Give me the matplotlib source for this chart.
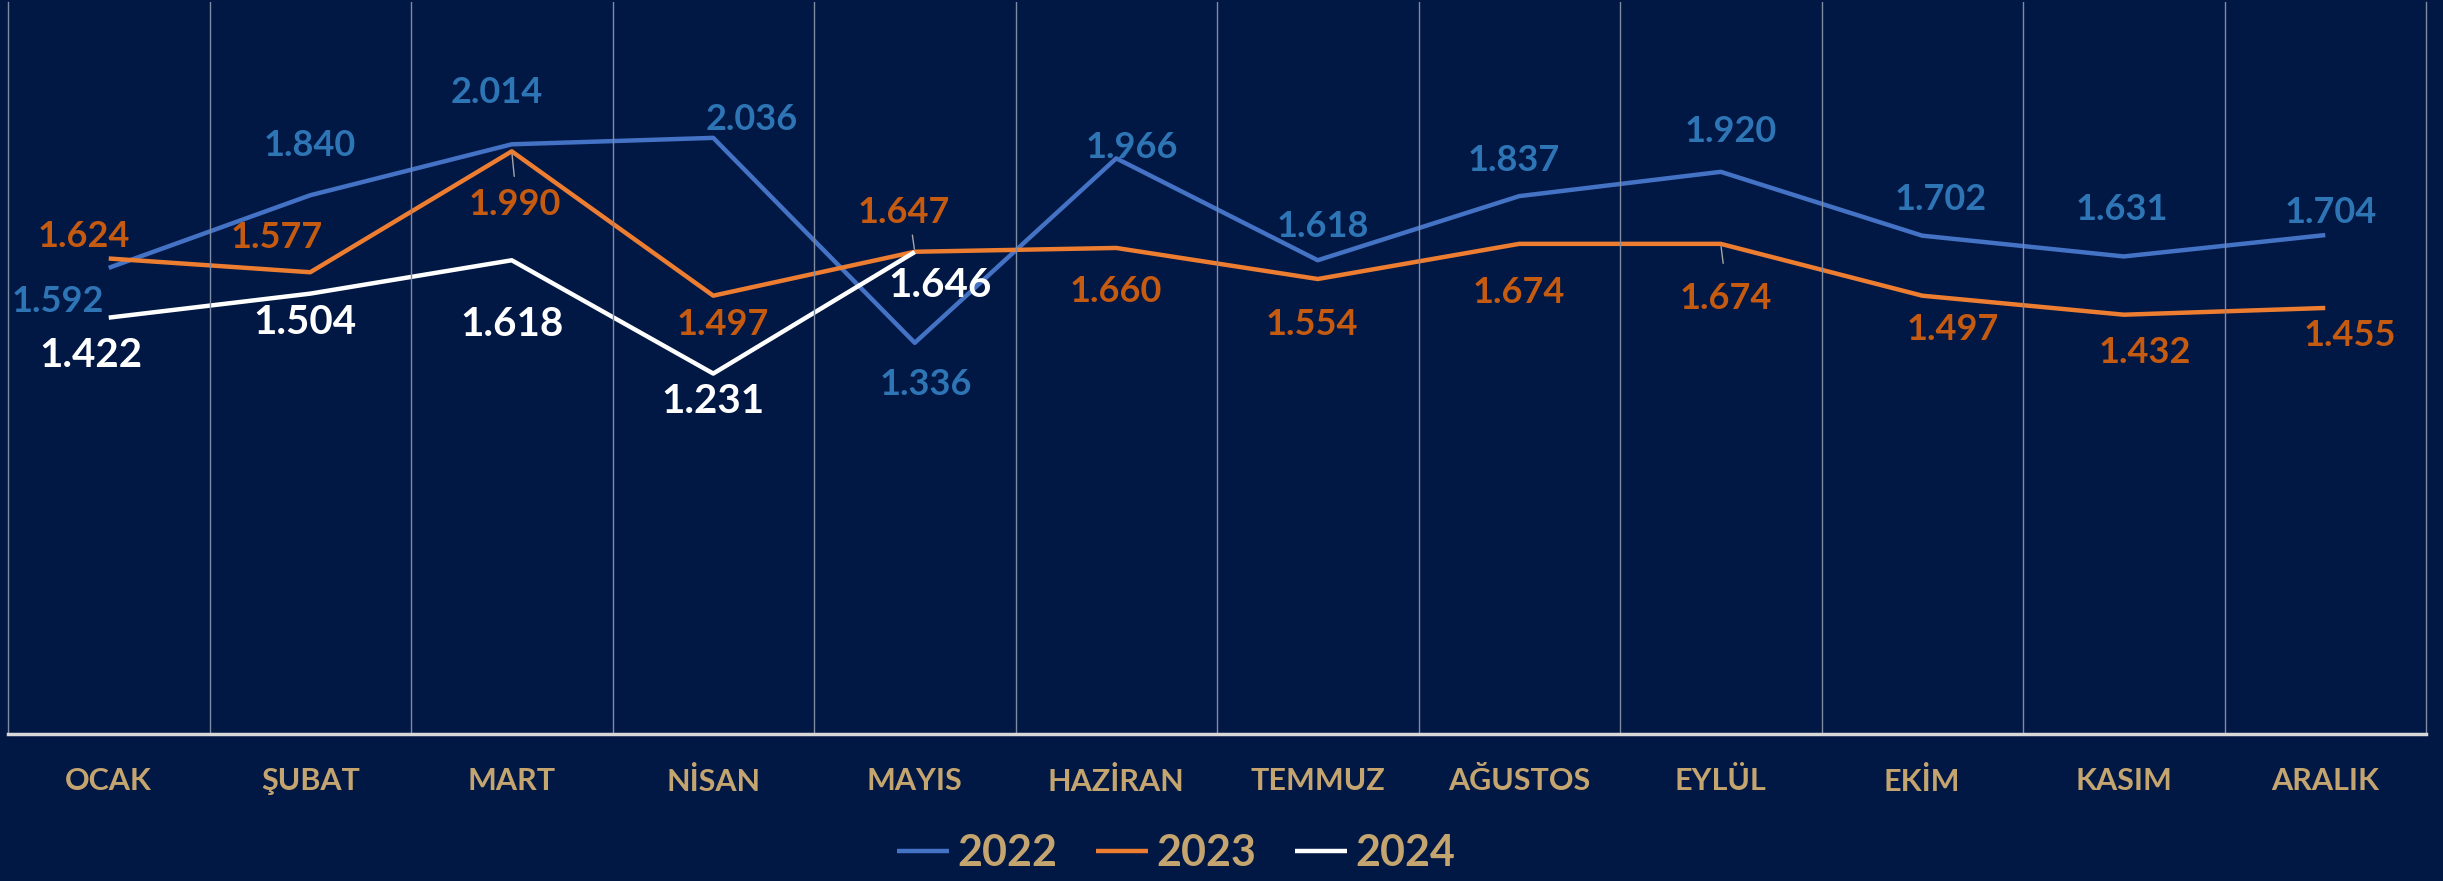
import matplotlib.pyplot as plt

# data
months = ["OCAK", "ŞUBAT", "MART", "NİSAN", "MAYIS", "HAZİRAN",
          "TEMMUZ", "AĞUSTOS", "EYLÜL", "EKİM", "KASIM", "ARALIK"]
y2022 = [1.592, 1.840, 2.014, 2.036, 1.336, 1.966, 1.618, 1.837, 1.920, 1.702, 1.631, 1.704]
y2023 = [1.624, 1.577, 1.990, 1.497, 1.647, 1.660, 1.554, 1.674, 1.674, 1.497, 1.432, 1.455]
y2024 = [1.422, 1.504, 1.618, 1.231, 1.646]

# label offsets (points) for each value label
off2022 = [(-37, -24), (0, 36), (-11, 37), (28, 13), (8, -30), (11, 8),
           (4, 24), (-4, 26), (7, 29), (13, 26), (-1, 34), (4, 16)]
off2023 = [(-18, 16), (-24, 25), (2, -38), (7, -21), (-8, 28), (0, -31),
           (-4, -33), (0, -35), (4, -39), (22, -24), (15, -27), (18, -20)]
off2024 = [(-13, -27), (-4, -21), (0, -46), (0, -20), (18, -24)]

bg = "#011744"
tan = "#C4A56F"
blue_line, blue_txt = "#4472C4", "#2E75B6"
orange_line, orange_txt = "#ED7D31", "#C55A11"

plt.rcParams['font.family'] = ['Lato', 'DejaVu Sans']

fig = plt.figure(figsize=(24.43, 8.81), dpi=100, facecolor=bg)
ax = fig.add_axes([8 / 2443, 1 - 734 / 881, 2418 / 2443, 732 / 881])
ax.set_facecolor(bg)

x = list(range(len(months)))
ax.plot(x, y2022, color=blue_line, lw=3.2, label="2022", solid_capstyle='butt')
ax.plot(x, y2023, color=orange_line, lw=3.2, label="2023", solid_capstyle='butt')
ax.plot(x[:len(y2024)], y2024, color="white", lw=3.2, label="2024", solid_capstyle='butt')

def labels(vals, offs, color, size):
    for i, (v, o) in enumerate(zip(vals, offs)):
        ax.annotate(f"{v:.3f}", (i, v), xytext=o, textcoords="offset points",
                    ha="center", va="center", color=color, fontsize=size,
                    fontweight="bold")

labels(y2022, off2022, blue_txt, 26)
labels(y2023, off2023, orange_txt, 26)
labels(y2024, off2024, "white", 29)

# small leader lines
for i, v, dy in [(2, y2023[2], -20), (4, y2023[4], 14), (8, y2023[8], -16)]:
    ax.annotate("", (i, v), xytext=(-2 if dy > 0 else 2, dy), textcoords="offset points",
                arrowprops=dict(arrowstyle="-", color="#A6A6A6", lw=1))

ax.set_xlim(-0.5, len(months) - 0.5)
ax.set_ylim(0, 2.5)
ax.set_yticks([])
ax.set_xticks(x)
ax.set_xticklabels(months, color=tan, fontsize=22, fontweight="bold")
ax.tick_params(axis='x', length=0, pad=24)

# category separators
for b in range(1, len(months)):
    ax.axvline(b - 0.5, color="#7F8AA3", lw=1)

ax.spines["top"].set_visible(False)
for s in ["left", "right"]:
    ax.spines[s].set_color("#7F8AA3")
    ax.spines[s].set_linewidth(1)
ax.spines["bottom"].set_color("#D9D9D9")
ax.spines["bottom"].set_linewidth(2.5)

leg = fig.legend(loc="center", bbox_to_anchor=(1176 / 2443, 1 - 853 / 881), ncol=3,
                 frameon=False, fontsize=31, handlelength=1.2, handletextpad=0.2,
                 columnspacing=0.9)
for t in leg.get_texts():
    t.set_color(tan)
    t.set_fontweight("bold")

fig.savefig("out.png", dpi=100, facecolor=bg)
